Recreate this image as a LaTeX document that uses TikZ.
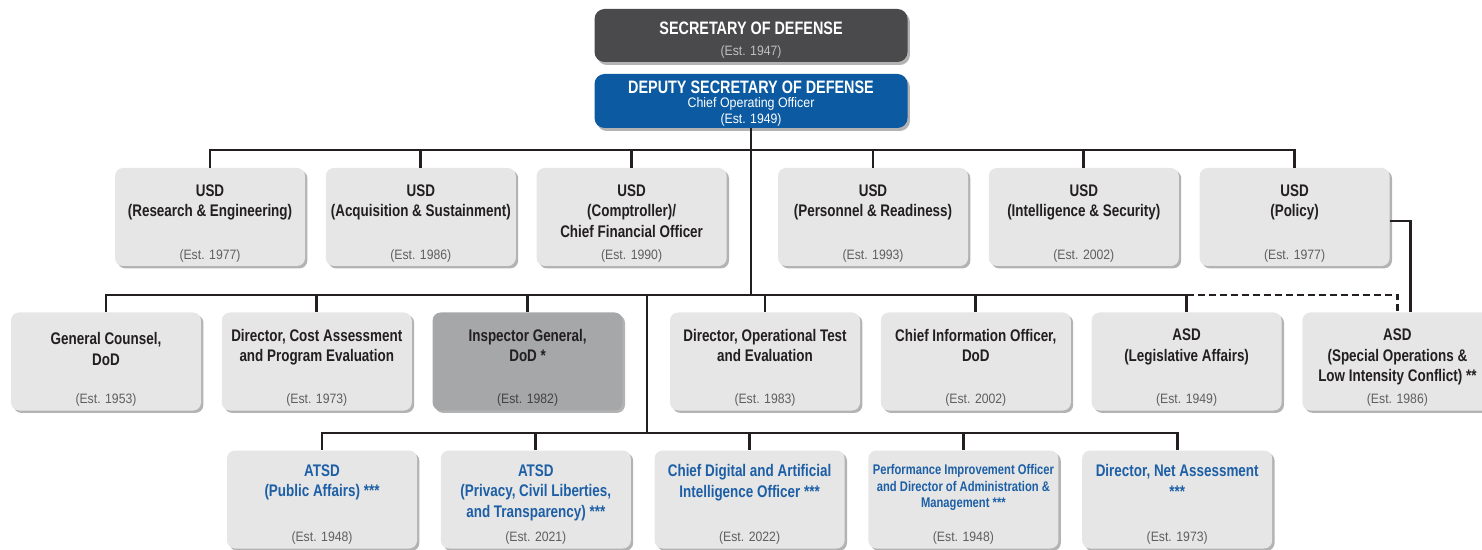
\documentclass[tikz,border=0pt]{standalone}
\usepackage{fontspec}
\setmainfont{Liberation Sans}[FakeStretch=0.8]
\newfontfamily\estfont{Liberation Sans}[FakeStretch=0.9]
\usepackage{tikz}
\usetikzlibrary{positioning,shadows,calc}

\definecolor{ink}{HTML}{231F20}
\definecolor{boxgray}{HTML}{E6E6E6}
\definecolor{iggray}{HTML}{A6A7A9}
\definecolor{secgray}{HTML}{4A4A4C}
\definecolor{depblue}{HTML}{0B5AA2}
\definecolor{newblue}{HTML}{1D5FA6}
\definecolor{estgray}{HTML}{5F5F5F}

\tikzset{
  office/.style={rectangle, rounded corners=4pt, fill=boxgray, minimum width=95pt, minimum height=49pt, inner sep=0pt,
    drop shadow={shadow xshift=1.2pt, shadow yshift=-1.2pt, opacity=0.6}},
  head/.style={rectangle, rounded corners=5pt, minimum width=156.5pt, inner sep=0pt,
    drop shadow={shadow xshift=1.2pt, shadow yshift=-1.5pt, opacity=0.6}},
  ttl/.style={anchor=north, yshift=-8.25pt, inner sep=0pt, align=center, text=ink, font=\bfseries\fontsize{8.4}{10.3}\selectfont},
  newttl/.style={anchor=north, yshift=-7pt, inner sep=0pt, align=center, text=newblue, font=\bfseries\fontsize{8.4}{10.3}\selectfont},
  headttl/.style={anchor=north, inner sep=0pt, text=white, font=\bfseries\fontsize{9}{11}\selectfont},
  est/.style={anchor=south, yshift=2pt, inner sep=0pt, text=estgray, font=\estfont\fontsize{6.8}{8}\selectfont},
  subttl/.style={anchor=north, inner sep=0pt, text=white, font=\estfont\fontsize{6.9}{8}\selectfont},
  link/.style={draw=ink, line width=1.4pt},
}

\begin{document}
\begin{tikzpicture}[x=0.5pt, y=-0.5pt, node distance=10pt]
  \useasboundingbox (0,0) rectangle (1482,550);

  % top of the chart
  \node[head, fill=secgray, minimum height=26.5pt, label={[headttl, yshift=-6.5pt]north:{SECRETARY OF DEFENSE}}, label={[est, text=white!75!black]south:{(Est. 1947)}}] (secdef) at (751,35.5) {};
  \node[head, fill=depblue, minimum height=27pt, label={[headttl, yshift=-3.3pt]north:{DEPUTY SECRETARY OF DEFENSE}}, label={[subttl, yshift=-11.6pt]north:{Chief Operating Officer}}, label={[est, text=white, yshift=-1pt]south:{(Est. 1949)}}] (dep) at (751,101) {};

  % under secretaries
  \node[office, label={[ttl]north:{USD\\(Research \& Engineering)}}, label={[est]south:{(Est. 1977)}}] (usdre) at (210,217) {};
  \node[office, label={[ttl]north:{USD\\(Acquisition \& Sustainment)}}, label={[est]south:{(Est. 1986)}}] (usdas) [right=of usdre] {};
  \node[office, label={[ttl]north:{USD\\(Comptroller)/\\Chief Financial Officer}}, label={[est]south:{(Est. 1990)}}] (usdc) [right=of usdas] {};
  \node[office, label={[ttl]north:{USD\\(Personnel \& Readiness)}}, label={[est]south:{(Est. 1993)}}] (usdpr) at (873,217) {};
  \node[office, label={[ttl]north:{USD\\(Intelligence \& Security)}}, label={[est]south:{(Est. 2002)}}] (usdis) [right=of usdpr] {};
  \node[office, label={[ttl]north:{USD\\(Policy)}}, label={[est]south:{(Est. 1977)}}] (usdp) [right=of usdis] {};

  % second row
  \node[office, label={[ttl, yshift=-1.75pt]north:{General Counsel,\\DoD}}, label={[est]south:{(Est. 1953)}}] (gc) at (106,361.5) {};
  \node[office, label={[ttl]north:{Director, Cost Assessment\\and Program Evaluation}}, label={[est]south:{(Est. 1973)}}] (cape) [right=of gc] {};
  \node[office, fill=iggray, label={[ttl]north:{Inspector General,\\DoD *}}, label={[est, text=ink!85]south:{(Est. 1982)}}] (ig) [right=of cape] {};
  \node[office, label={[ttl]north:{Director, Operational Test\\and Evaluation}}, label={[est]south:{(Est. 1983)}}] (dote) at (765,361.5) {};
  \node[office, label={[ttl]north:{Chief Information Officer,\\DoD}}, label={[est]south:{(Est. 2002)}}] (cio) [right=of dote] {};
  \node[office, label={[ttl]north:{ASD\\(Legislative Affairs)}}, label={[est]south:{(Est. 1949)}}] (asdla) [right=of cio] {};
  \node[office, label={[ttl]north:{ASD\\(Special Operations \&\\Low Intensity Conflict) **}}, label={[est]south:{(Est. 1986)}}] (solic) [right=of asdla] {};

  % third row
  \node[office, label={[newttl]north:{ATSD\\(Public Affairs) ***}}, label={[est]south:{(Est. 1948)}}] (atsdpa) at (322,499.5) {};
  \node[office, label={[newttl]north:{ATSD\\(Privacy, Civil Liberties,\\and Transparency) ***}}, label={[est]south:{(Est. 2021)}}] (atsdpclt) [right=11.5pt of atsdpa] {};
  \node[office, label={[newttl]north:{Chief Digital and Artificial\\Intelligence Officer ***}}, label={[est]south:{(Est. 2022)}}] (cdao) [right=11.5pt of atsdpclt] {};
  \node[office, label={[newttl, font=\bfseries\fontsize{7}{8.3}\selectfont]north:{Performance Improvement Officer\\and Director of Administration \&\\Management ***}}, label={[est]south:{(Est. 1948)}}] (pio) [right=11.5pt of cdao] {};
  \node[office, label={[newttl]north:{Director, Net Assessment\\***}}, label={[est]south:{(Est. 1973)}}] (dna) [right=11.5pt of pio] {};

  % buses
  \coordinate (bus1) at (751,150);
  \coordinate (bus2) at (751,295);
  \coordinate (bus3) at (647,433);

  \draw[link] (dep.south) -- (bus2);
  \draw[link] (usdre.north) |- (bus1);
  \draw[link] (usdas.north) |- (bus1);
  \draw[link] (usdc.north) |- (bus1);
  \draw[link] (usdpr.north) |- (bus1);
  \draw[link] (usdis.north) |- (bus1);
  \draw[link] (usdp.north) |- (bus1);

  \draw[link] (gc.north) |- (bus2);
  \draw[link] (cape.north) |- (bus2);
  \draw[link] (ig.north) |- (bus2);
  \draw[link] (dote.north) |- (bus2);
  \draw[link] (cio.north) |- (bus2);
  \draw[link] (asdla.north) |- (bus2);
  \draw[link, dash pattern=on 3.5pt off 2pt] (asdla.north |- bus2) -| (solic.north);
  \draw[link] ([yshift=-2pt]usdp.east) -| ([xshift=6.5pt]solic.north);

  \draw[link] (bus3 |- bus2) -- (bus3);
  \draw[link] (atsdpa.north) |- (bus3);
  \draw[link] (atsdpclt.north) |- (bus3);
  \draw[link] (cdao.north) |- (bus3);
  \draw[link] (pio.north) |- (bus3);
  \draw[link] (dna.north) |- (bus3);
\end{tikzpicture}
\end{document}
